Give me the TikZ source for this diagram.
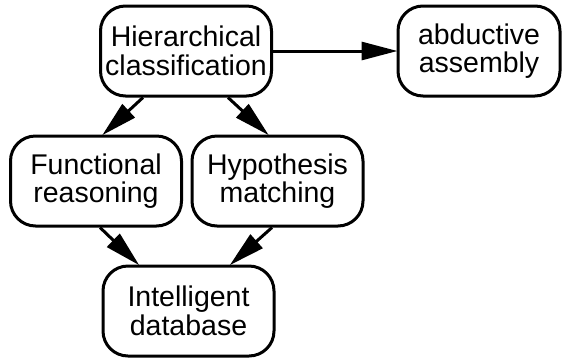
\documentclass[tikz,border=0pt]{standalone}
\usepackage{fontspec}
\setmainfont{Liberation Sans}
\usetikzlibrary{arrows.meta}
\begin{document}
\begin{tikzpicture}[x=1pt,y=-1pt,
  box/.style={draw, line width=3pt, rounded corners=25pt,
    minimum width=171pt, minimum height=90pt, inner sep=0pt,
    align=center, font=\fontsize{28.5pt}{28.5pt}\selectfont},
  link/.style={line width=3pt,
    -{Triangle[length=36pt,width=18pt]}, shorten >=-1pt}]
\useasboundingbox (0,0) rectangle (562,357);
\node[box] (hc) at (186,51) {Hierarchical\\classification};
\node[box, minimum width=162pt] (ab) at (479,51) {abductive\\assembly};
\node[box] (fr) at (96,181) {Functional\\reasoning};
\node[box] (hm) at (277.5,181) {Hypothesis\\matching};
\node[box] (db) at (188.5,311) {Intelligent\\database};
\draw[link] (hc.east) -- (ab.west);
\draw[link] ([xshift=-43pt]hc.south) -- ([xshift=7pt]fr.north);
\draw[link] ([xshift=42pt]hc.south) -- ([xshift=-9.5pt]hm.north);
\draw[link] ([xshift=4pt]fr.south) -- ([xshift=-50pt]db.north);
\draw[link] ([xshift=-5.5pt]hm.south) -- ([xshift=42pt]db.north);
\end{tikzpicture}
\end{document}
